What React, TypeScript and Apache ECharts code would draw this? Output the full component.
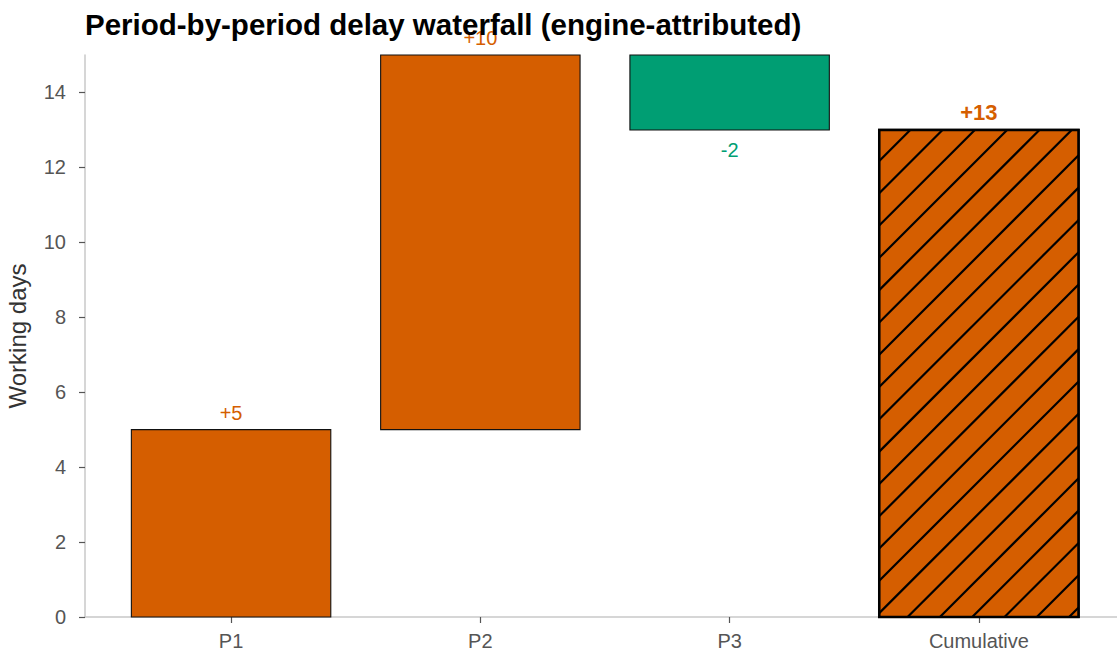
import React, { useEffect, useRef } from "react";
import * as echarts from "echarts";

const categories = ["P1", "P2", "P3", "Cumulative"];
const deltas = [5, 10, -2];
const cumulativeTotal = 13;
const yTicks = [0, 2, 4, 6, 8, 10, 12, 14];
const ORANGE = "#D55E00";
const GREEN = "#009E73";
const FONT = "Liberation Sans, Arial, Helvetica, sans-serif";

function buildData() {
  const rows: any[] = [];
  let running = 0;
  deltas.forEach((d, i) => {
    const start = running;
    running += d;
    rows.push({ value: [i, start, running, d, 0] });
  });
  rows.push({ value: [deltas.length, 0, cumulativeTotal, cumulativeTotal, 1] });
  return rows;
}

const fmt = (d: number) => (d > 0 ? "+" + d : String(d));

export default function App() {
  const ref = useRef<HTMLDivElement>(null);
  useEffect(() => {
    document.body.style.margin = "0";
    const chart = echarts.init(ref.current!, undefined, { renderer: "svg" });
    const data = buildData();
    chart.setOption({
      animation: false,
      backgroundColor: "#ffffff",
      title: {
        text: "Period-by-period delay waterfall (engine-attributed)",
        left: 80,
        top: 4,
        textStyle: { fontFamily: FONT, fontSize: 29.5, fontWeight: "bold", color: "#000" },
      },
      grid: { left: 85, top: 55, right: 0, bottom: 38, outerBoundsMode: "none", containLabel: false },
      xAxis: {
        type: "value",
        min: -0.586,
        max: 3.554,
        axisLine: { show: true, onZero: false, lineStyle: { color: "#c8c8c8", width: 1.5 } },
        axisTick: { show: true, customValues: [0, 1, 2, 3], length: 6, lineStyle: { color: "#555", width: 1.2 } },
        axisLabel: {
          customValues: [0, 1, 2, 3],
          formatter: (v: number) => categories[Math.round(v)] ?? "",
          margin: 14,
          color: "#555",
          fontFamily: FONT,
          fontSize: 20,
        },
        splitLine: { show: false },
      },
      yAxis: {
        type: "value",
        min: 0,
        max: 15,
        interval: 2,
        name: "Working days",
        nameLocation: "middle",
        nameGap: 56,
        nameTextStyle: { fontFamily: FONT, fontSize: 24, color: "#333" },
        axisLine: { show: true, onZero: false, lineStyle: { color: "#c8c8c8", width: 1.5 } },
        axisTick: { show: true, customValues: yTicks, length: 6, lineStyle: { color: "#555", width: 1.2 } },
        axisLabel: {
          customValues: yTicks,
          margin: 19,
          color: "#555",
          fontFamily: FONT,
          fontSize: 20,
        },
        splitLine: { show: false },
      },
      series: [
        {
          type: "custom",
          clip: false,
          data,
          encode: { x: 0, y: [1, 2] },
          renderItem: (params: any, api: any) => {
            const i = api.value(0);
            const a = api.value(1);
            const b = api.value(2);
            const d = api.value(3);
            const isTotal = api.value(4) === 1;
            const lo = Math.min(a, b);
            const hi = Math.max(a, b);
            const pLo = api.coord([i, lo]);
            const pHi = api.coord([i, hi]);
            const w = api.size([0.8, 0])[0];
            const x0 = pLo[0] - w / 2;
            const x1 = x0 + w;
            const y0 = pHi[1];
            const y1 = pLo[1];
            const color = d >= 0 ? ORANGE : GREEN;
            const children: any[] = [
              {
                type: "rect",
                shape: { x: x0, y: y0, width: w, height: y1 - y0 },
                style: { fill: color, stroke: "#111", lineWidth: isTotal ? 2.2 : 1.1 },
              },
            ];
            if (isTotal) {
              const step = 32.3;
              let c = x0 + y0 + step - 1.3;
              while (c < x1 + y1) {
                const xs = Math.max(x0, c - y1);
                const xe = Math.min(x1, c - y0);
                if (xe > xs) {
                  children.push({
                    type: "line",
                    shape: { x1: xs, y1: c - xs, x2: xe, y2: c - xe },
                    style: { stroke: "#000", lineWidth: 2.2 },
                  });
                }
                c += step;
              }
              children.push({
                type: "rect",
                shape: { x: x0, y: y0, width: w, height: y1 - y0 },
                style: { fill: "none", stroke: "#000", lineWidth: 2.4 },
              });
            }
            const labelY = d >= 0 ? y0 - 17 : y1 + 20;
            children.push({
              type: "text",
              style: {
                text: fmt(d),
                x: (x0 + x1) / 2,
                y: labelY,
                align: "center",
                verticalAlign: "middle",
                fill: color,
                fontFamily: FONT,
                fontSize: isTotal ? 22 : 20,
                fontWeight: isTotal ? "bold" : "normal",
              },
            });
            return { type: "group", children };
          },
        },
      ],
    });
    return () => chart.dispose();
  }, []);
  return <div ref={ref} style={{ width: 1117, height: 655 }} />;
}
